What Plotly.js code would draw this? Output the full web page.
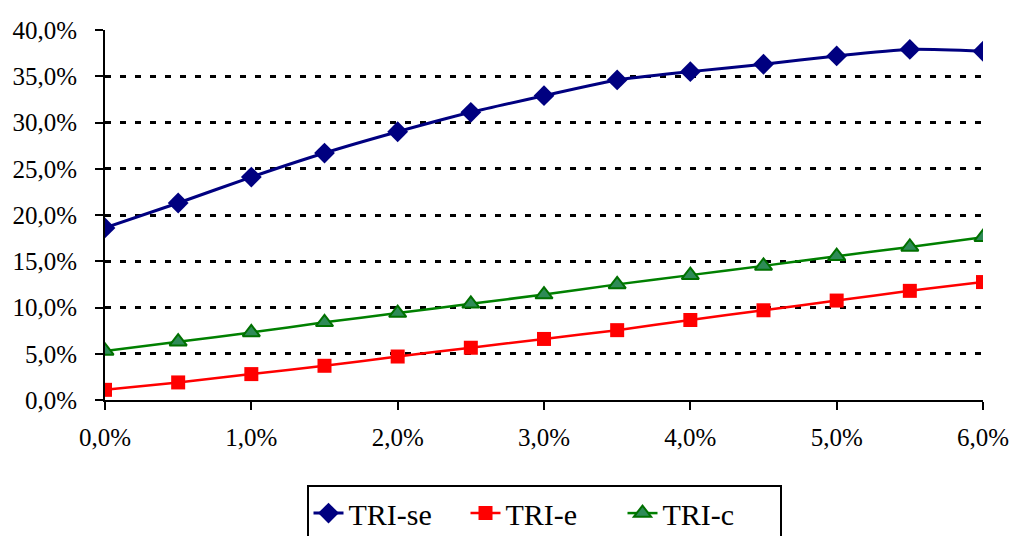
<!DOCTYPE html>
<html>
<head>
<meta charset="utf-8">
<script src="https://cdn.plot.ly/plotly-3.0.1.min.js"></script>
<style>html,body{margin:0;padding:0;background:#fff;}#chart{width:1010px;height:536px;}</style>
</head>
<body>
<div id="chart"></div>
<script>
var xValues = [0, 0.5, 1, 1.5, 2, 2.5, 3, 3.5, 4, 4.5, 5, 5.5, 6];
var triSe = [18.6, 21.3, 24.1, 26.7, 29.0, 31.1, 32.9, 34.6, 35.5, 36.3, 37.2, 37.9, 37.7];
var triE  = [1.1, 1.9, 2.8, 3.7, 4.7, 5.65, 6.6, 7.55, 8.65, 9.7, 10.75, 11.8, 12.75];
var triC  = [5.3, 6.3, 7.3, 8.4, 9.4, 10.4, 11.4, 12.5, 13.5, 14.5, 15.55, 16.55, 17.6];
var seriesNames = ["TRI-se", "TRI-e", "TRI-c"];

var traces = [
  {x: xValues, y: triSe, name: seriesNames[0], type: "scatter", mode: "lines+markers",
   line: {color: "#000080", width: 3, shape: "spline", smoothing: 0.6},
   marker: {symbol: "diamond", size: 16, color: "#000080"}},
  {x: xValues, y: triE, name: seriesNames[1], type: "scatter", mode: "lines+markers",
   line: {color: "#FF0000", width: 2.5, shape: "spline", smoothing: 0.6},
   marker: {symbol: "square", size: 14, color: "#FF0000"}},
  {x: xValues, y: triC, name: seriesNames[2], type: "scatter", mode: "lines+markers",
   line: {color: "#008000", width: 2.5, shape: "spline", smoothing: 0.6},
   marker: {symbol: "triangle-up", size: 15, color: "#2E8B57", line: {color: "#007000", width: 2}}}
];

var layout = {
  width: 1010, height: 536,
  margin: {l: 105, r: 27, t: 30, b: 136, autoexpand: false},
  paper_bgcolor: "#fff", plot_bgcolor: "#fff",
  separators: ",.",
  font: {family: "Liberation Serif, Times New Roman, serif", size: 25, color: "#000"},
  showlegend: true,
  xaxis: {
    range: [0, 6], dtick: 1, tick0: 0, tickformat: ".1f", ticksuffix: "%",
    showgrid: false, zeroline: false,
    showline: true, linecolor: "#000", linewidth: 2,
    ticks: "outside", ticklen: 8, tickwidth: 2, tickcolor: "#000",
    ticklabelstandoff: 6, ticklabeloverflow: "allow",
    tickfont: {size: 25}
  },
  yaxis: {
    range: [0, 40], dtick: 5, tick0: 0, tickformat: ".1f", ticksuffix: "%",
    showgrid: true, gridcolor: "#000", gridwidth: 3, griddash: "6px,9px",
    zeroline: false,
    showline: true, linecolor: "#000", linewidth: 2,
    ticks: "outside", ticklen: 8, tickwidth: 2, tickcolor: "#000",
    ticklabelstandoff: 13,
    tickfont: {size: 25}
  },
  legend: {
    orientation: "h", x: 0.5, xanchor: "center",
    yref: "container", y: 0.095, yanchor: "top",
    bordercolor: "#000", borderwidth: 2, bgcolor: "#fff",
    entrywidth: 112, entrywidthmode: "pixels",
    font: {size: 30}
  }
};

Plotly.newPlot("chart", traces, layout, {displayModeBar: false, staticPlot: true});
</script>
</body>
</html>
